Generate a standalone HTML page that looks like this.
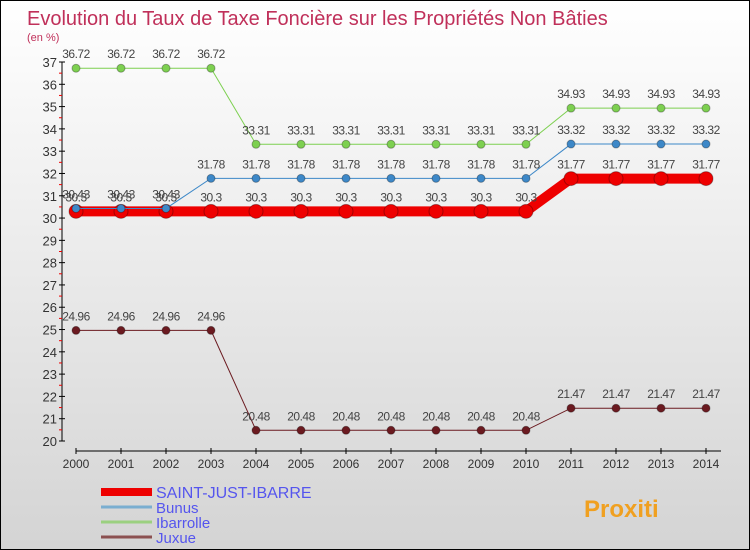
<!DOCTYPE html>
<html><head><meta charset="utf-8"><style>
body{margin:0}
#c{width:750px;height:550px;position:relative;font-family:"Liberation Sans",sans-serif;background:linear-gradient(#fff,#d4d4d4);border:1px solid #000;box-sizing:border-box;overflow:hidden}
text{font-family:"Liberation Sans",sans-serif}
</style></head><body>
<div id="c">
<svg id="s" width="750" height="550"></svg>
</div>
<script>
const years=[2000,2001,2002,2003,2004,2005,2006,2007,2008,2009,2010,2011,2012,2013,2014];
const saint=[30.3,30.3,30.3,30.3,30.3,30.3,30.3,30.3,30.3,30.3,30.3,31.77,31.77,31.77,31.77];
const bunus=[30.43,30.43,30.43,31.78,31.78,31.78,31.78,31.78,31.78,31.78,31.78,33.32,33.32,33.32,33.32];
const ibar=[36.72,36.72,36.72,36.72,33.31,33.31,33.31,33.31,33.31,33.31,33.31,34.93,34.93,34.93,34.93];
const juxue=[24.96,24.96,24.96,24.96,20.48,20.48,20.48,20.48,20.48,20.48,20.48,21.47,21.47,21.47,21.47];
const yTicks=[20,21,22,23,24,25,26,27,28,29,30,31,32,33,34,35,36,37];
const s=document.getElementById('s');const NS='http://www.w3.org/2000/svg';
function el(t,a,n,txt){const e=document.createElementNS(NS,t);for(const k in a)e.setAttribute(k,a[k]);if(txt!==undefined)e.textContent=txt;s.appendChild(e);return e;}
const X=i=>75+i*45;const Y=v=>440-(v-20)*(379/17);
el('text',{x:26,y:24,'font-size':20,fill:'#c0305a'},'chart-title','Evolution du Taux de Taxe Foncière sur les Propriétés Non Bâties');
el('text',{x:26,y:40,'font-size':11,fill:'#c0305a'},'y-unit','(en %)');
el('line',{x1:61,y1:61,x2:61,y2:440,stroke:'#000'},'y-axis');
yTicks.forEach(v=>{el('line',{x1:58,x2:64,y1:Y(v),y2:Y(v),stroke:'#000'},'y-tick');
 el('text',{x:56,y:Y(v)+5,'font-size':13,'text-anchor':'end',fill:'#333'},'y-tick-label',v);
 if(v<37)el('line',{x1:58,x2:61,y1:Y(v+0.5),y2:Y(v+0.5),stroke:'#e00'},'y-minor-tick');});
el('line',{x1:75,y1:450,x2:720,y2:450,stroke:'#000'},'x-axis');
years.forEach((y,i)=>{el('line',{x1:X(i),x2:X(i),y1:447,y2:453,stroke:'#000'},'x-tick');
 el('text',{x:X(i),y:467,'font-size':12,'text-anchor':'middle',fill:'#333'},'x-tick-label',y);});
function series(d,col,w,r,name){
 el('polyline',{points:d.map((v,i)=>X(i)+','+Y(v)).join(' '),fill:'none',stroke:col,'stroke-width':w},name+'-line');
 d.forEach((v,i)=>{el('circle',{cx:X(i),cy:Y(v),r:r,fill:col,stroke:'rgba(0,0,0,0.3)'},name+'-point');
  el('text',{x:X(i),y:Y(v)-10,'font-size':12,'text-anchor':'middle',fill:'#444','letter-spacing':'-0.5'},name+'-value',String(v));});}
series(ibar,'#7dd050',1,4,'ibarrolle');
series(juxue,'#6b1a20',1,4,'juxue');
series(saint,'#ee0000',10,7,'saint-just-ibarre');
series(bunus,'#3d88c8',1,4,'bunus');
const leg=[['SAINT-JUST-IBARRE','#ee0000',8,16],['Bunus','#7aaed0',3,15],['Ibarrolle','#9bd080',3,15],['Juxue','#8b5050',3,15]];
leg.forEach((l,i)=>{const y=[493,508,523,538][i];
 el('line',{x1:100,x2:151,y1:y-2,y2:y-2,stroke:l[1],'stroke-width':l[2]},'legend-swatch');
 el('text',{x:155,y:y+4,'font-size':l[3],fill:'#5555ee'},'legend-entry',l[0]);});
el('text',{x:583,y:516,'font-size':24,'font-weight':'bold',fill:'#f0a020'},'proxiti-logo','Proxiti');
</script>
</body></html>
